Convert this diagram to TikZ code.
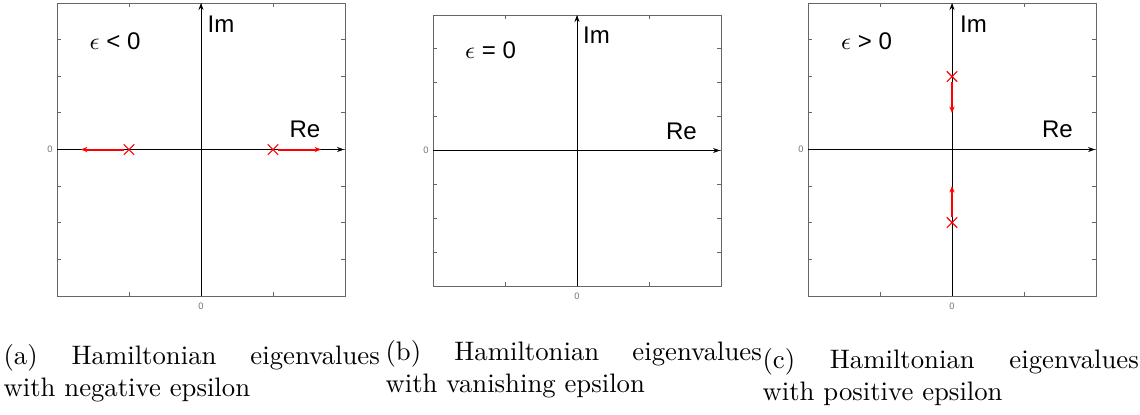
\documentclass[tikz,border=0pt]{standalone}
\usepackage{fontspec}
\usepackage{tikz}
\usetikzlibrary{positioning,arrows.meta,shapes.misc}
\newfontfamily\plotfont{Liberation Sans}
\definecolor{framegray}{gray}{0.4}
\definecolor{tickgray}{gray}{0.45}
\definecolor{poleRed}{RGB}{255,0,0}

% one complex plane: #1 name, #2 half width, #3 half height
\newcommand{\cplane}[3]{%
  \draw[planeframe] (-#2,-#3) rectangle (#2,#3);
  \foreach \k in {1,...,7} {
    \draw[planeframe] (-#2,{-#3+\k*#3/4}) -- ++(4,0);
    \draw[planeframe] (#2,{-#3+\k*#3/4}) -- ++(-4,0);
  }
  \foreach \k in {1,2,3} {
    \draw[planeframe] ({-#2+\k*#2/2},-#3) -- ++(0,4);
    \draw[planeframe] ({-#2+\k*#2/2},#3) -- ++(0,-4);
  }
  \coordinate (#1-xl) at (-#2,0);
  \coordinate (#1-xr) at (#2-1,0);
  \coordinate (#1-yb) at (0,-#3);
  \coordinate (#1-yt) at (0,#3);
  \draw[axis] (#1-xl) -- (#1-xr);
  \draw[axis] (#1-yb) -- (#1-yt);
  \node[zerolabel, anchor=east] (#1-zy) at (-#2-4,0) {0};
  \node[zerolabel] (#1-zx) at (0,-#3-10) {0};
}

\begin{document}
\begin{tikzpicture}[x=0.013158cm, y=0.013158cm,
    planeframe/.style={framegray, line width=0.3pt},
    axis/.style={black, line width=0.35pt, -{Stealth[length=2.6pt,width=1.9pt]}},
    planelabel/.style={font={\plotfont\fontsize{9}{10.8}\selectfont}, inner sep=0pt},
    zerolabel/.style={font={\plotfont\fontsize{3.5}{4}\selectfont}, text=tickgray, inner sep=0pt},
    pole/.style={draw=poleRed, cross out, line width=0.4pt, minimum size=3.5pt, inner sep=0pt},
    flow/.style={draw=poleRed, line width=0.75pt, -{Stealth[length=2.4pt,width=2pt]}},
    subcap/.style={text width=140.8pt, align=justify, inner sep=0pt, anchor=north west, font=\normalsize}]
  \useasboundingbox (0,0) rectangle (1140,414);

  % (a) negative epsilon
  \begin{scope}[shift={(201,264.5)}]
    \cplane{a}{144}{146.5}
    \node[planelabel] (a-eps) at (-86,108) {$\epsilon$ < 0};
    \node[planelabel] (a-im) at (20,125) {Im};
    \node[planelabel] (a-re) at (104,20.5) {Re};
    \node[pole] (a-p1) at (-72,0) {};
    \node[pole] (a-p2) at (72,0) {};
    \coordinate (a-t1) at (-120,0);
    \coordinate (a-t2) at (120,0);
    \draw[flow] (a-p1) -- (a-t1);
    \draw[flow] (a-p2) -- (a-t2);
  \end{scope}

  % (b) vanishing epsilon
  \begin{scope}[shift={(577,263.5)}]
    \cplane{b}{144}{135.5}
    \node[planelabel] (b-eps) at (-86.5,100.5) {$\epsilon$ = 0};
    \node[planelabel] (b-im) at (19.5,115) {Im};
    \node[planelabel] (b-re) at (104.5,19.5) {Re};
  \end{scope}

  % (c) positive epsilon
  \begin{scope}[shift={(952,264.5)}]
    \cplane{c}{144}{146.5}
    \node[planelabel] (c-eps) at (-85.5,108.5) {$\epsilon$ > 0};
    \node[planelabel] (c-im) at (21.5,125) {Im};
    \node[planelabel] (c-re) at (105.5,20.5) {Re};
    \node[pole] (c-p1) at (0,73) {};
    \node[pole] (c-p2) at (0,-73) {};
    \coordinate (c-t1) at (0,36.6);
    \coordinate (c-t2) at (0,-36.6);
    \draw[flow] (c-p1) -- (c-t1);
    \draw[flow] (c-p2) -- (c-t2);
  \end{scope}

  % subcaptions
  \node[subcap] (cap-a) at (3,70) {(a) Hamiltonian eigenvalues with negative epsilon};
  \node[subcap] (cap-b) at (385,74) {(b) Hamiltonian eigenvalues with vanishing epsilon};
  \node[subcap] (cap-c) at (762,66) {(c) Hamiltonian eigenvalues with positive epsilon};
\end{tikzpicture}
\end{document}
